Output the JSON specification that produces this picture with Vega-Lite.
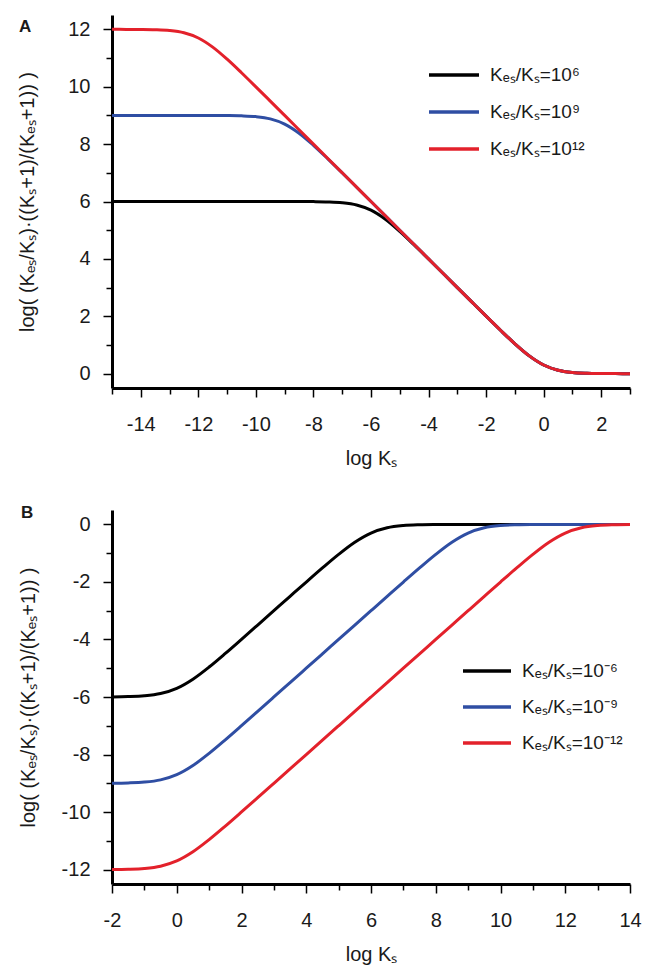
{
"$schema": "https://vega.github.io/schema/vega-lite/v6.json",
"padding": {"left": 17, "top": 15, "right": 5, "bottom": 2},
"background": "white",
"config": {
  "view": {"stroke": null},
  "font": "Liberation Sans",
  "axis": {"grid": false, "domainColor": "#000", "domainWidth": 3, "tickColor": "#000", "tickWidth": 1.5, "labelFont": "Liberation Sans", "labelFontSize": 20, "labelColor": "#1a1a1a", "titleFont": "Liberation Sans", "titleFontSize": 20, "titleFontWeight": "normal", "titleColor": "#1a1a1a", "labelFlush": false, "labelOverlap": false, "labelBound": false},
  "legend": {"labelFont": "Liberation Sans", "labelFontSize": 19, "labelColor": "#1a1a1a"}
},
"datasets": {
"a": [
{"x":-15,"y":6,"s":"Kₑₛ/Kₛ=10⁶"},{"x":-14.5,"y":6,"s":"Kₑₛ/Kₛ=10⁶"},{"x":-14,"y":6,"s":"Kₑₛ/Kₛ=10⁶"},{"x":-13.5,"y":6,"s":"Kₑₛ/Kₛ=10⁶"},{"x":-13,"y":6,"s":"Kₑₛ/Kₛ=10⁶"},{"x":-12.5,"y":6,"s":"Kₑₛ/Kₛ=10⁶"},{"x":-12,"y":6,"s":"Kₑₛ/Kₛ=10⁶"},{"x":-11.5,"y":6,"s":"Kₑₛ/Kₛ=10⁶"},{"x":-11,"y":6,"s":"Kₑₛ/Kₛ=10⁶"},{"x":-10.5,"y":6,"s":"Kₑₛ/Kₛ=10⁶"},{"x":-10,"y":6,"s":"Kₑₛ/Kₛ=10⁶"},{"x":-9.5,"y":5.9999,"s":"Kₑₛ/Kₛ=10⁶"},{"x":-9,"y":5.9996,"s":"Kₑₛ/Kₛ=10⁶"},{"x":-8.5,"y":5.9986,"s":"Kₑₛ/Kₛ=10⁶"},{"x":-8,"y":5.9957,"s":"Kₑₛ/Kₛ=10⁶"},{"x":-7.5,"y":5.9865,"s":"Kₑₛ/Kₛ=10⁶"},{"x":-7,"y":5.9586,"s":"Kₑₛ/Kₛ=10⁶"},{"x":-6.5,"y":5.8807,"s":"Kₑₛ/Kₛ=10⁶"},{"x":-6,"y":5.699,"s":"Kₑₛ/Kₛ=10⁶"},{"x":-5.5,"y":5.3807,"s":"Kₑₛ/Kₛ=10⁶"},{"x":-5,"y":4.9586,"s":"Kₑₛ/Kₛ=10⁶"},{"x":-4.5,"y":4.4865,"s":"Kₑₛ/Kₛ=10⁶"},{"x":-4,"y":3.9957,"s":"Kₑₛ/Kₛ=10⁶"},{"x":-3.5,"y":3.4988,"s":"Kₑₛ/Kₛ=10⁶"},{"x":-3,"y":3.0,"s":"Kₑₛ/Kₛ=10⁶"},{"x":-2.5,"y":2.5012,"s":"Kₑₛ/Kₛ=10⁶"},{"x":-2,"y":2.0043,"s":"Kₑₛ/Kₛ=10⁶"},{"x":-1.5,"y":1.5135,"s":"Kₑₛ/Kₛ=10⁶"},{"x":-1,"y":1.0414,"s":"Kₑₛ/Kₛ=10⁶"},{"x":-0.5,"y":0.6193,"s":"Kₑₛ/Kₛ=10⁶"},{"x":0,"y":0.301,"s":"Kₑₛ/Kₛ=10⁶"},{"x":0.5,"y":0.1193,"s":"Kₑₛ/Kₛ=10⁶"},{"x":1,"y":0.0414,"s":"Kₑₛ/Kₛ=10⁶"},{"x":1.5,"y":0.0135,"s":"Kₑₛ/Kₛ=10⁶"},{"x":2,"y":0.0043,"s":"Kₑₛ/Kₛ=10⁶"},{"x":2.5,"y":0.0014,"s":"Kₑₛ/Kₛ=10⁶"},{"x":3,"y":0.0004,"s":"Kₑₛ/Kₛ=10⁶"},
{"x":-15,"y":9,"s":"Kₑₛ/Kₛ=10⁹"},{"x":-14.5,"y":9,"s":"Kₑₛ/Kₛ=10⁹"},{"x":-14,"y":9,"s":"Kₑₛ/Kₛ=10⁹"},{"x":-13.5,"y":9,"s":"Kₑₛ/Kₛ=10⁹"},{"x":-13,"y":9,"s":"Kₑₛ/Kₛ=10⁹"},{"x":-12.5,"y":8.9999,"s":"Kₑₛ/Kₛ=10⁹"},{"x":-12,"y":8.9996,"s":"Kₑₛ/Kₛ=10⁹"},{"x":-11.5,"y":8.9986,"s":"Kₑₛ/Kₛ=10⁹"},{"x":-11,"y":8.9957,"s":"Kₑₛ/Kₛ=10⁹"},{"x":-10.5,"y":8.9865,"s":"Kₑₛ/Kₛ=10⁹"},{"x":-10,"y":8.9586,"s":"Kₑₛ/Kₛ=10⁹"},{"x":-9.5,"y":8.8807,"s":"Kₑₛ/Kₛ=10⁹"},{"x":-9,"y":8.699,"s":"Kₑₛ/Kₛ=10⁹"},{"x":-8.5,"y":8.3807,"s":"Kₑₛ/Kₛ=10⁹"},{"x":-8,"y":7.9586,"s":"Kₑₛ/Kₛ=10⁹"},{"x":-7.5,"y":7.4865,"s":"Kₑₛ/Kₛ=10⁹"},{"x":-7,"y":6.9957,"s":"Kₑₛ/Kₛ=10⁹"},{"x":-6.5,"y":6.4986,"s":"Kₑₛ/Kₛ=10⁹"},{"x":-6,"y":5.9996,"s":"Kₑₛ/Kₛ=10⁹"},{"x":-5.5,"y":5.4999,"s":"Kₑₛ/Kₛ=10⁹"},{"x":-5,"y":5.0,"s":"Kₑₛ/Kₛ=10⁹"},{"x":-4.5,"y":4.5,"s":"Kₑₛ/Kₛ=10⁹"},{"x":-4,"y":4.0,"s":"Kₑₛ/Kₛ=10⁹"},{"x":-3.5,"y":3.5001,"s":"Kₑₛ/Kₛ=10⁹"},{"x":-3,"y":3.0004,"s":"Kₑₛ/Kₛ=10⁹"},{"x":-2.5,"y":2.5014,"s":"Kₑₛ/Kₛ=10⁹"},{"x":-2,"y":2.0043,"s":"Kₑₛ/Kₛ=10⁹"},{"x":-1.5,"y":1.5135,"s":"Kₑₛ/Kₛ=10⁹"},{"x":-1,"y":1.0414,"s":"Kₑₛ/Kₛ=10⁹"},{"x":-0.5,"y":0.6193,"s":"Kₑₛ/Kₛ=10⁹"},{"x":0,"y":0.301,"s":"Kₑₛ/Kₛ=10⁹"},{"x":0.5,"y":0.1193,"s":"Kₑₛ/Kₛ=10⁹"},{"x":1,"y":0.0414,"s":"Kₑₛ/Kₛ=10⁹"},{"x":1.5,"y":0.0135,"s":"Kₑₛ/Kₛ=10⁹"},{"x":2,"y":0.0043,"s":"Kₑₛ/Kₛ=10⁹"},{"x":2.5,"y":0.0014,"s":"Kₑₛ/Kₛ=10⁹"},{"x":3,"y":0.0004,"s":"Kₑₛ/Kₛ=10⁹"},
{"x":-15,"y":11.9996,"s":"Kₑₛ/Kₛ=10¹²"},{"x":-14.5,"y":11.9986,"s":"Kₑₛ/Kₛ=10¹²"},{"x":-14,"y":11.9957,"s":"Kₑₛ/Kₛ=10¹²"},{"x":-13.5,"y":11.9865,"s":"Kₑₛ/Kₛ=10¹²"},{"x":-13,"y":11.9586,"s":"Kₑₛ/Kₛ=10¹²"},{"x":-12.5,"y":11.8807,"s":"Kₑₛ/Kₛ=10¹²"},{"x":-12,"y":11.699,"s":"Kₑₛ/Kₛ=10¹²"},{"x":-11.5,"y":11.3807,"s":"Kₑₛ/Kₛ=10¹²"},{"x":-11,"y":10.9586,"s":"Kₑₛ/Kₛ=10¹²"},{"x":-10.5,"y":10.4865,"s":"Kₑₛ/Kₛ=10¹²"},{"x":-10,"y":9.9957,"s":"Kₑₛ/Kₛ=10¹²"},{"x":-9.5,"y":9.4986,"s":"Kₑₛ/Kₛ=10¹²"},{"x":-9,"y":8.9996,"s":"Kₑₛ/Kₛ=10¹²"},{"x":-8.5,"y":8.4999,"s":"Kₑₛ/Kₛ=10¹²"},{"x":-8,"y":8.0,"s":"Kₑₛ/Kₛ=10¹²"},{"x":-7.5,"y":7.5,"s":"Kₑₛ/Kₛ=10¹²"},{"x":-7,"y":7.0,"s":"Kₑₛ/Kₛ=10¹²"},{"x":-6.5,"y":6.5,"s":"Kₑₛ/Kₛ=10¹²"},{"x":-6,"y":6.0,"s":"Kₑₛ/Kₛ=10¹²"},{"x":-5.5,"y":5.5,"s":"Kₑₛ/Kₛ=10¹²"},{"x":-5,"y":5.0,"s":"Kₑₛ/Kₛ=10¹²"},{"x":-4.5,"y":4.5,"s":"Kₑₛ/Kₛ=10¹²"},{"x":-4,"y":4.0,"s":"Kₑₛ/Kₛ=10¹²"},{"x":-3.5,"y":3.5001,"s":"Kₑₛ/Kₛ=10¹²"},{"x":-3,"y":3.0004,"s":"Kₑₛ/Kₛ=10¹²"},{"x":-2.5,"y":2.5014,"s":"Kₑₛ/Kₛ=10¹²"},{"x":-2,"y":2.0043,"s":"Kₑₛ/Kₛ=10¹²"},{"x":-1.5,"y":1.5135,"s":"Kₑₛ/Kₛ=10¹²"},{"x":-1,"y":1.0414,"s":"Kₑₛ/Kₛ=10¹²"},{"x":-0.5,"y":0.6193,"s":"Kₑₛ/Kₛ=10¹²"},{"x":0,"y":0.301,"s":"Kₑₛ/Kₛ=10¹²"},{"x":0.5,"y":0.1193,"s":"Kₑₛ/Kₛ=10¹²"},{"x":1,"y":0.0414,"s":"Kₑₛ/Kₛ=10¹²"},{"x":1.5,"y":0.0135,"s":"Kₑₛ/Kₛ=10¹²"},{"x":2,"y":0.0043,"s":"Kₑₛ/Kₛ=10¹²"},{"x":2.5,"y":0.0014,"s":"Kₑₛ/Kₛ=10¹²"},{"x":3,"y":0.0004,"s":"Kₑₛ/Kₛ=10¹²"}
],
"b": [
{"x":-2,"y":-5.9957,"s":"Kₑₛ/Kₛ=10⁻⁶"},{"x":-1.5,"y":-5.9865,"s":"Kₑₛ/Kₛ=10⁻⁶"},{"x":-1,"y":-5.9586,"s":"Kₑₛ/Kₛ=10⁻⁶"},{"x":-0.5,"y":-5.8807,"s":"Kₑₛ/Kₛ=10⁻⁶"},{"x":0,"y":-5.699,"s":"Kₑₛ/Kₛ=10⁻⁶"},{"x":0.5,"y":-5.3807,"s":"Kₑₛ/Kₛ=10⁻⁶"},{"x":1,"y":-4.9586,"s":"Kₑₛ/Kₛ=10⁻⁶"},{"x":1.5,"y":-4.4865,"s":"Kₑₛ/Kₛ=10⁻⁶"},{"x":2,"y":-3.9957,"s":"Kₑₛ/Kₛ=10⁻⁶"},{"x":2.5,"y":-3.4988,"s":"Kₑₛ/Kₛ=10⁻⁶"},{"x":3,"y":-3.0,"s":"Kₑₛ/Kₛ=10⁻⁶"},{"x":3.5,"y":-2.5012,"s":"Kₑₛ/Kₛ=10⁻⁶"},{"x":4,"y":-2.0043,"s":"Kₑₛ/Kₛ=10⁻⁶"},{"x":4.5,"y":-1.5135,"s":"Kₑₛ/Kₛ=10⁻⁶"},{"x":5,"y":-1.0414,"s":"Kₑₛ/Kₛ=10⁻⁶"},{"x":5.5,"y":-0.6193,"s":"Kₑₛ/Kₛ=10⁻⁶"},{"x":6,"y":-0.301,"s":"Kₑₛ/Kₛ=10⁻⁶"},{"x":6.5,"y":-0.1193,"s":"Kₑₛ/Kₛ=10⁻⁶"},{"x":7,"y":-0.0414,"s":"Kₑₛ/Kₛ=10⁻⁶"},{"x":7.5,"y":-0.0135,"s":"Kₑₛ/Kₛ=10⁻⁶"},{"x":8,"y":-0.0043,"s":"Kₑₛ/Kₛ=10⁻⁶"},{"x":8.5,"y":-0.0014,"s":"Kₑₛ/Kₛ=10⁻⁶"},{"x":9,"y":-0.0004,"s":"Kₑₛ/Kₛ=10⁻⁶"},{"x":9.5,"y":-0.0001,"s":"Kₑₛ/Kₛ=10⁻⁶"},{"x":10,"y":0,"s":"Kₑₛ/Kₛ=10⁻⁶"},{"x":10.5,"y":0,"s":"Kₑₛ/Kₛ=10⁻⁶"},{"x":11,"y":0,"s":"Kₑₛ/Kₛ=10⁻⁶"},{"x":11.5,"y":0,"s":"Kₑₛ/Kₛ=10⁻⁶"},{"x":12,"y":0,"s":"Kₑₛ/Kₛ=10⁻⁶"},{"x":12.5,"y":0,"s":"Kₑₛ/Kₛ=10⁻⁶"},{"x":13,"y":0,"s":"Kₑₛ/Kₛ=10⁻⁶"},{"x":13.5,"y":0,"s":"Kₑₛ/Kₛ=10⁻⁶"},{"x":14,"y":0,"s":"Kₑₛ/Kₛ=10⁻⁶"},
{"x":-2,"y":-8.9957,"s":"Kₑₛ/Kₛ=10⁻⁹"},{"x":-1.5,"y":-8.9865,"s":"Kₑₛ/Kₛ=10⁻⁹"},{"x":-1,"y":-8.9586,"s":"Kₑₛ/Kₛ=10⁻⁹"},{"x":-0.5,"y":-8.8807,"s":"Kₑₛ/Kₛ=10⁻⁹"},{"x":0,"y":-8.699,"s":"Kₑₛ/Kₛ=10⁻⁹"},{"x":0.5,"y":-8.3807,"s":"Kₑₛ/Kₛ=10⁻⁹"},{"x":1,"y":-7.9586,"s":"Kₑₛ/Kₛ=10⁻⁹"},{"x":1.5,"y":-7.4865,"s":"Kₑₛ/Kₛ=10⁻⁹"},{"x":2,"y":-6.9957,"s":"Kₑₛ/Kₛ=10⁻⁹"},{"x":2.5,"y":-6.4986,"s":"Kₑₛ/Kₛ=10⁻⁹"},{"x":3,"y":-5.9996,"s":"Kₑₛ/Kₛ=10⁻⁹"},{"x":3.5,"y":-5.4999,"s":"Kₑₛ/Kₛ=10⁻⁹"},{"x":4,"y":-5.0,"s":"Kₑₛ/Kₛ=10⁻⁹"},{"x":4.5,"y":-4.5,"s":"Kₑₛ/Kₛ=10⁻⁹"},{"x":5,"y":-4.0,"s":"Kₑₛ/Kₛ=10⁻⁹"},{"x":5.5,"y":-3.5001,"s":"Kₑₛ/Kₛ=10⁻⁹"},{"x":6,"y":-3.0004,"s":"Kₑₛ/Kₛ=10⁻⁹"},{"x":6.5,"y":-2.5014,"s":"Kₑₛ/Kₛ=10⁻⁹"},{"x":7,"y":-2.0043,"s":"Kₑₛ/Kₛ=10⁻⁹"},{"x":7.5,"y":-1.5135,"s":"Kₑₛ/Kₛ=10⁻⁹"},{"x":8,"y":-1.0414,"s":"Kₑₛ/Kₛ=10⁻⁹"},{"x":8.5,"y":-0.6193,"s":"Kₑₛ/Kₛ=10⁻⁹"},{"x":9,"y":-0.301,"s":"Kₑₛ/Kₛ=10⁻⁹"},{"x":9.5,"y":-0.1193,"s":"Kₑₛ/Kₛ=10⁻⁹"},{"x":10,"y":-0.0414,"s":"Kₑₛ/Kₛ=10⁻⁹"},{"x":10.5,"y":-0.0135,"s":"Kₑₛ/Kₛ=10⁻⁹"},{"x":11,"y":-0.0043,"s":"Kₑₛ/Kₛ=10⁻⁹"},{"x":11.5,"y":-0.0014,"s":"Kₑₛ/Kₛ=10⁻⁹"},{"x":12,"y":-0.0004,"s":"Kₑₛ/Kₛ=10⁻⁹"},{"x":12.5,"y":-0.0001,"s":"Kₑₛ/Kₛ=10⁻⁹"},{"x":13,"y":0,"s":"Kₑₛ/Kₛ=10⁻⁹"},{"x":13.5,"y":0,"s":"Kₑₛ/Kₛ=10⁻⁹"},{"x":14,"y":0,"s":"Kₑₛ/Kₛ=10⁻⁹"},
{"x":-2,"y":-11.9957,"s":"Kₑₛ/Kₛ=10⁻¹²"},{"x":-1.5,"y":-11.9865,"s":"Kₑₛ/Kₛ=10⁻¹²"},{"x":-1,"y":-11.9586,"s":"Kₑₛ/Kₛ=10⁻¹²"},{"x":-0.5,"y":-11.8807,"s":"Kₑₛ/Kₛ=10⁻¹²"},{"x":0,"y":-11.699,"s":"Kₑₛ/Kₛ=10⁻¹²"},{"x":0.5,"y":-11.3807,"s":"Kₑₛ/Kₛ=10⁻¹²"},{"x":1,"y":-10.9586,"s":"Kₑₛ/Kₛ=10⁻¹²"},{"x":1.5,"y":-10.4865,"s":"Kₑₛ/Kₛ=10⁻¹²"},{"x":2,"y":-9.9957,"s":"Kₑₛ/Kₛ=10⁻¹²"},{"x":2.5,"y":-9.4986,"s":"Kₑₛ/Kₛ=10⁻¹²"},{"x":3,"y":-8.9996,"s":"Kₑₛ/Kₛ=10⁻¹²"},{"x":3.5,"y":-8.4999,"s":"Kₑₛ/Kₛ=10⁻¹²"},{"x":4,"y":-8.0,"s":"Kₑₛ/Kₛ=10⁻¹²"},{"x":4.5,"y":-7.5,"s":"Kₑₛ/Kₛ=10⁻¹²"},{"x":5,"y":-7.0,"s":"Kₑₛ/Kₛ=10⁻¹²"},{"x":5.5,"y":-6.5,"s":"Kₑₛ/Kₛ=10⁻¹²"},{"x":6,"y":-6.0,"s":"Kₑₛ/Kₛ=10⁻¹²"},{"x":6.5,"y":-5.5,"s":"Kₑₛ/Kₛ=10⁻¹²"},{"x":7,"y":-5.0,"s":"Kₑₛ/Kₛ=10⁻¹²"},{"x":7.5,"y":-4.5,"s":"Kₑₛ/Kₛ=10⁻¹²"},{"x":8,"y":-4.0,"s":"Kₑₛ/Kₛ=10⁻¹²"},{"x":8.5,"y":-3.5001,"s":"Kₑₛ/Kₛ=10⁻¹²"},{"x":9,"y":-3.0004,"s":"Kₑₛ/Kₛ=10⁻¹²"},{"x":9.5,"y":-2.5014,"s":"Kₑₛ/Kₛ=10⁻¹²"},{"x":10,"y":-2.0043,"s":"Kₑₛ/Kₛ=10⁻¹²"},{"x":10.5,"y":-1.5135,"s":"Kₑₛ/Kₛ=10⁻¹²"},{"x":11,"y":-1.0414,"s":"Kₑₛ/Kₛ=10⁻¹²"},{"x":11.5,"y":-0.6193,"s":"Kₑₛ/Kₛ=10⁻¹²"},{"x":12,"y":-0.301,"s":"Kₑₛ/Kₛ=10⁻¹²"},{"x":12.5,"y":-0.1193,"s":"Kₑₛ/Kₛ=10⁻¹²"},{"x":13,"y":-0.0414,"s":"Kₑₛ/Kₛ=10⁻¹²"},{"x":13.5,"y":-0.0135,"s":"Kₑₛ/Kₛ=10⁻¹²"},{"x":14,"y":-0.0043,"s":"Kₑₛ/Kₛ=10⁻¹²"}
]
},
"spacing": 36,
"vconcat": [
{
  "width": 518, "height": 373,
  "title": {"text": "A", "anchor": "start", "frame": "group", "orient": "top", "offset": 0, "baseline": "alphabetic", "dx": -93, "dy": 34, "fontSize": 17, "fontWeight": "bold", "font": "Liberation Sans", "color": "#1a1a1a"},
  "data": {"name": "a"},
  "mark": {"type": "line", "strokeWidth": 3, "interpolate": "monotone", "clip": true},
  "encoding": {
    "x": {"field": "x", "type": "quantitative", "scale": {"domain": [-15, 3], "nice": false, "zero": false},
      "axis": {"title": "log Kₛ", "values": [-15,-14,-13,-12,-11,-10,-9,-8,-7,-6,-5,-4,-3,-2,-1,0,1,2,3], "labelExpr": "datum.value % 2 === 0 ? toString(datum.value) : ''", "tickSize": {"condition": {"test": "datum.value % 2 === 0", "value": 9}, "value": 6}, "labelPadding": 17, "titlePadding": 14}},
    "y": {"field": "y", "type": "quantitative", "scale": {"domain": [-0.5, 12.5], "nice": false, "zero": false},
      "axis": {"title": "log( (Kₑₛ/Kₛ)·((Kₛ+1)/(Kₑₛ+1)) )", "values": [0,1,2,3,4,5,6,7,8,9,10,11,12], "labelExpr": "datum.value % 2 === 0 ? toString(datum.value) : ''", "tickSize": {"condition": {"test": "datum.value % 2 === 0", "value": 9}, "value": 6}, "labelPadding": 13, "titlePadding": 30}},
    "color": {"field": "s", "type": "nominal",
      "scale": {"domain": ["Kₑₛ/Kₛ=10⁶", "Kₑₛ/Kₛ=10⁹", "Kₑₛ/Kₛ=10¹²"], "range": ["#000000", "#2f4ea3", "#e3212b"]},
      "legend": {"orient": "none", "legendX": 315, "legendY": 33, "title": null, "symbolType": "stroke", "symbolSize": 2500, "symbolStrokeWidth": 3.5, "labelOffset": 9, "rowPadding": -2, "padding": 0, "labelLimit": 300}}
  }
},
{
  "width": 518, "height": 374,
  "title": {"text": "B", "anchor": "start", "frame": "group", "orient": "top", "offset": 0, "baseline": "alphabetic", "dx": -91, "dy": 25, "fontSize": 17, "fontWeight": "bold", "font": "Liberation Sans", "color": "#1a1a1a"},
  "data": {"name": "b"},
  "mark": {"type": "line", "strokeWidth": 3, "interpolate": "monotone", "clip": true},
  "encoding": {
    "x": {"field": "x", "type": "quantitative", "scale": {"domain": [-2, 14], "nice": false, "zero": false},
      "axis": {"title": "log Kₛ", "values": [-2,-1,0,1,2,3,4,5,6,7,8,9,10,11,12,13,14], "labelExpr": "datum.value % 2 === 0 ? toString(datum.value) : ''", "tickSize": {"condition": {"test": "datum.value % 2 === 0", "value": 9}, "value": 6}, "labelPadding": 17, "titlePadding": 14}},
    "y": {"field": "y", "type": "quantitative", "scale": {"domain": [-12.5, 0.5], "nice": false, "zero": false},
      "axis": {"title": "log( (Kₑₛ/Kₛ)·((Kₛ+1)/(Kₑₛ+1)) )", "values": [-12,-11,-10,-9,-8,-7,-6,-5,-4,-3,-2,-1,0], "labelExpr": "datum.value % 2 === 0 ? toString(datum.value) : ''", "tickSize": {"condition": {"test": "datum.value % 2 === 0", "value": 9}, "value": 6}, "labelPadding": 13, "titlePadding": 23}},
    "color": {"field": "s", "type": "nominal",
      "scale": {"domain": ["Kₑₛ/Kₛ=10⁻⁶", "Kₑₛ/Kₛ=10⁻⁹", "Kₑₛ/Kₛ=10⁻¹²"], "range": ["#000000", "#2f4ea3", "#e3212b"]},
      "legend": {"orient": "none", "legendX": 349, "legendY": 135, "title": null, "symbolType": "stroke", "symbolSize": 2304, "symbolStrokeWidth": 3.5, "labelOffset": 9, "rowPadding": -2, "padding": 0, "labelLimit": 300}}
  }
}
],
"resolve": {"scale": {"color": "independent", "x": "independent", "y": "independent"}, "legend": {"color": "independent"}}
}
